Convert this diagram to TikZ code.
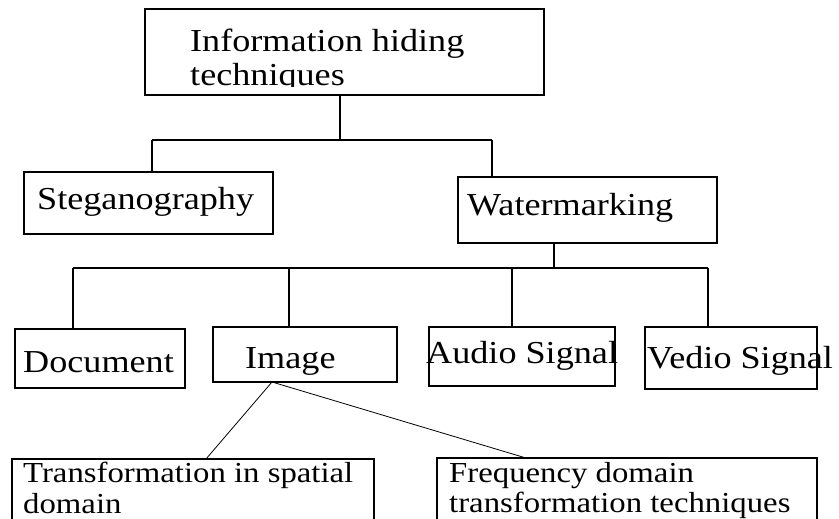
\documentclass[tikz,border=0pt]{standalone}
\usepackage{fontspec}
\setmainfont{Liberation Serif}
\newcommand{\sx}[1]{\scalebox{1.13}[1]{#1}}
\begin{document}
\begin{tikzpicture}[x=1pt,y=-1pt,
  box/.style={draw, line width=1.1pt, inner sep=0pt},
  conn/.style={line width=1.1pt},
  diag/.style={line width=0.8pt},
  txt/.style={anchor=base west, inner sep=0pt, font=\fontsize{32}{34}\selectfont},
  stxt/.style={anchor=base west, inner sep=0pt, font=\fontsize{29}{31}\selectfont}]
\useasboundingbox (0,0) rectangle (839,519);
\clip (0,0) rectangle (839,519);
% boxes
\node[box, minimum width=399pt, minimum height=86pt] (top) at (344.5,52) {};
\node[box, minimum width=249pt, minimum height=62pt] (steg) at (148.5,203) {};
\node[box, minimum width=259pt, minimum height=66pt] (water) at (587.5,210) {};
\node[box, minimum width=170pt, minimum height=59pt] (doc) at (100,358.5) {};
\node[box, minimum width=184pt, minimum height=55pt] (image) at (305,354.5) {};
\node[box, minimum width=186pt, minimum height=59pt] (audio) at (522,356.5) {};
\node[box, minimum width=172pt, minimum height=62pt] (video) at (731,358) {};
\node[box, minimum width=362pt, minimum height=71pt] (trans) at (193,494.5) {};
\node[box, minimum width=380pt, minimum height=72pt] (freq) at (627,494) {};
% texts
\node[txt] (lTop1) at (190,52) {\sx{Information hiding}};
\begin{scope}
\clip (0,0) rectangle (839,87);
\node[txt] (lTop2) at (190,86) {\sx{techniques}};
\end{scope}
\node[txt] (lSteg) at (37,209) {\sx{Steganography}};
\node[txt] (lWater) at (467,215) {\sx{Watermarking}};
\node[txt] (lDoc) at (23,372) {\sx{Document}};
\node[txt] (lImage) at (245,368) {\sx{Image}};
\node[txt] (lAudio) at (426,363) {\sx{Audio Signal}};
\node[txt] (lVideo) at (647,368) {\sx{Vedio Signal}};
\node[stxt] (lTrans1) at (23,482) {\sx{Transformation in spatial}};
\node[stxt] (lTrans2) at (23,513) {\sx{domain}};
\node[stxt] (lFreq1) at (449,482) {\sx{Frequency domain}};
\node[stxt] (lFreq2) at (449,512) {\sx{transformation techniques}};
% junction coordinates
\coordinate (j0) at (340,140);
\coordinate (s1) at (152,140);
\coordinate (s2) at (492,140);
\coordinate (k0) at (554,268);
\coordinate (b1) at (73,268);
\coordinate (b2) at (289,268);
\coordinate (b3) at (512,268);
\coordinate (b4) at (708,268);
\coordinate (ib) at (272,382);
\coordinate (tt) at (206,459);
\coordinate (fq) at (526,458);
% connectors
\draw[conn] (j0 |- top.south) -- (j0);
\draw[conn] (s1) -- (s2);
\draw[conn] (s1) -- (s1 |- steg.north);
\draw[conn] (s2) -- (s2 |- water.north);
\draw[conn] (k0 |- water.south) -- (k0);
\draw[conn] (b1) -- (b4);
\draw[conn] (b1) -- (b1 |- doc.north);
\draw[conn] (b2) -- (b2 |- image.north);
\draw[conn] (b3) -- (b3 |- audio.north);
\draw[conn] (b4) -- (b4 |- video.north);
\draw[diag] (ib) -- (tt);
\draw[diag] (ib) -- (fq);
\end{tikzpicture}
\end{document}
